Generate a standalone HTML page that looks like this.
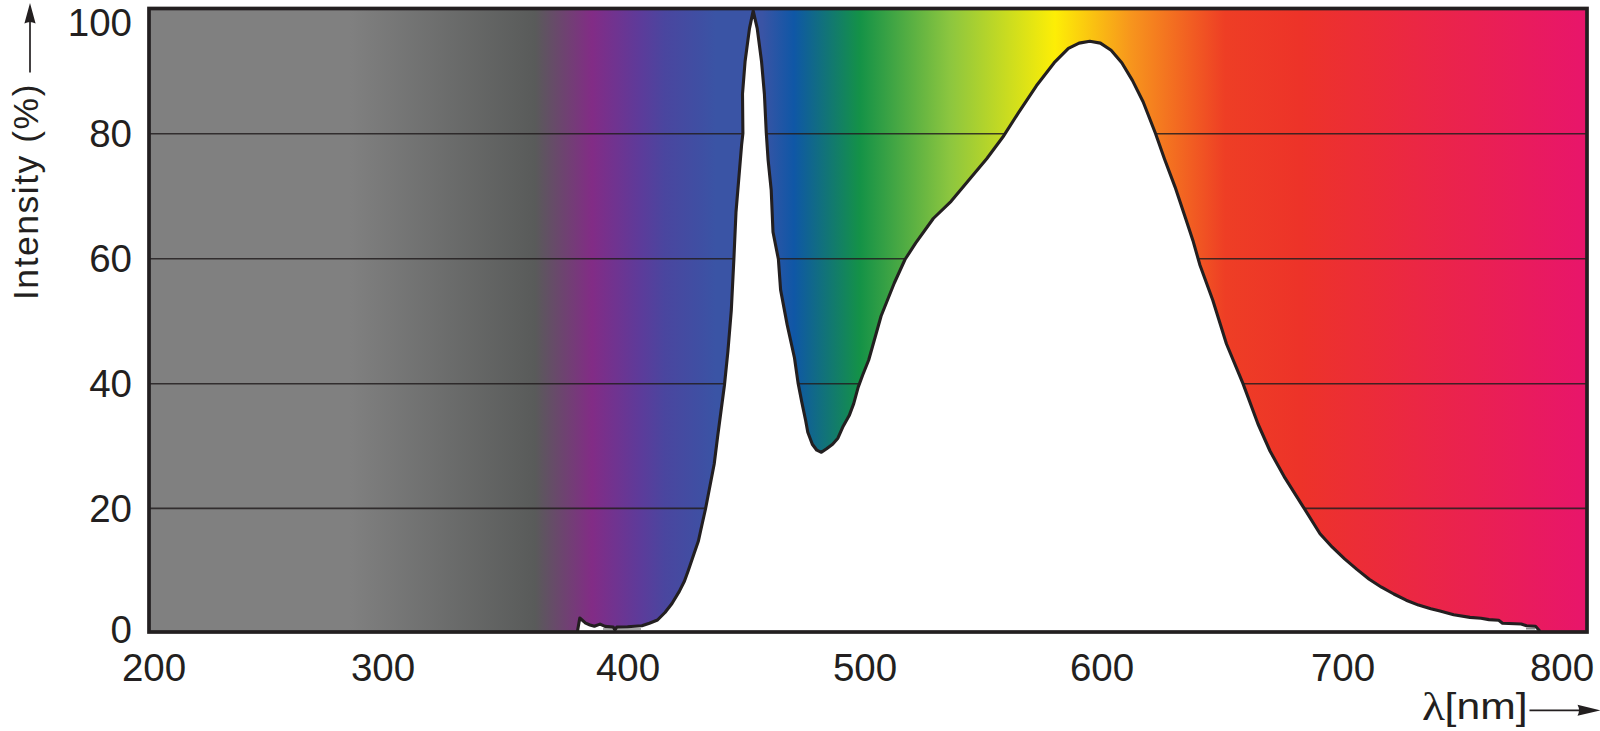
<!DOCTYPE html>
<html lang="en">
<head>
<meta charset="utf-8">
<title>Spectral power distribution</title>
<style>
html,body{margin:0;padding:0;background:#fff;}
body{width:1600px;height:731px;overflow:hidden;}
svg{display:block;}
text{font-family:"Liberation Sans",sans-serif;font-size:38.5px;fill:#231f20;}
</style>
</head>
<body>
<svg width="1600" height="731" viewBox="0 0 1600 731">
<defs>
<linearGradient id="spec" gradientUnits="userSpaceOnUse" x1="149" y1="0" x2="1587" y2="0">
<stop offset="0.0000" stop-color="#808080"/>
<stop offset="0.1398" stop-color="#808080"/>
<stop offset="0.2684" stop-color="#595b5a"/>
<stop offset="0.3081" stop-color="#822c86"/>
<stop offset="0.3414" stop-color="#5d3b9a"/>
<stop offset="0.3588" stop-color="#4a469f"/>
<stop offset="0.3832" stop-color="#3f4fa3"/>
<stop offset="0.3943" stop-color="#3a54a5"/>
<stop offset="0.4263" stop-color="#3a54a5"/>
<stop offset="0.4485" stop-color="#0f57a6"/>
<stop offset="0.4944" stop-color="#149247"/>
<stop offset="0.5570" stop-color="#8cc63f"/>
<stop offset="0.6300" stop-color="#fdee06"/>
<stop offset="0.6836" stop-color="#f7941d"/>
<stop offset="0.7483" stop-color="#ee3e25"/>
<stop offset="0.8004" stop-color="#ed3329"/>
<stop offset="1.0000" stop-color="#e8156b"/>
</linearGradient>
</defs>
<rect x="0" y="0" width="1600" height="731" fill="#ffffff"/>
<rect x="149" y="8.5" width="1438" height="623.5" fill="url(#spec)"/>
<g stroke="#231f20" stroke-width="1.6" stroke-opacity="0.85">
<line x1="149" x2="1587" y1="133.7" y2="133.7"/>
<line x1="149" x2="1587" y1="258.8" y2="258.8"/>
<line x1="149" x2="1587" y1="383.8" y2="383.8"/>
<line x1="149" x2="1587" y1="508.4" y2="508.4"/>
</g>
<path d="M577.6,630.5 L579.8,618.0 L585.6,623.1 L590.0,625.0 L594.4,626.3 L600.0,624.1 L605.0,626.4 L613.2,627.0 L615.0,630.0 L616.8,627.0 L627.5,626.7 L641.9,625.7 L649.4,623.2 L657.5,620.0 L665.0,612.5 L672.0,603.5 L679.3,591.4 L684.5,581.0 L688.3,570.4 L694.0,553.7 L698.4,541.0 L700.8,530.0 L705.6,508.5 L714.2,464.0 L717.6,436.8 L724.4,385.5 L727.9,351.3 L731.3,310.3 L733.9,258.7 L736.0,212.0 L741.6,145.0 L742.9,133.3 L742.5,94.0 L745.1,61.2 L749.5,28.4 L753.2,10.9 L757.2,28.4 L761.5,61.2 L764.4,94.0 L766.3,133.3 L768.1,159.8 L771.2,190.0 L773.0,232.0 L778.4,259.3 L780.6,289.9 L787.2,324.9 L794.5,358.0 L798.0,382.6 L801.8,402.1 L805.6,420.2 L807.8,432.2 L812.3,444.2 L816.8,450.2 L821.4,452.3 L826.6,448.7 L832.6,444.2 L837.9,438.2 L843.2,426.2 L849.2,415.6 L853.7,403.6 L858.2,387.1 L862.7,375.0 L868.7,360.0 L881.1,316.0 L894.3,283.0 L905.0,259.5 L915.6,243.2 L933.3,218.5 L951.1,201.3 L968.9,180.0 L986.7,158.7 L1002.7,137.3 L1018.7,112.4 L1036.4,85.8 L1054.2,62.7 L1068.4,48.4 L1079.1,43.1 L1089.8,41.3 L1100.4,43.1 L1111.1,50.2 L1121.8,62.7 L1132.4,80.4 L1143.1,101.8 L1155.6,133.8 L1164.4,158.7 L1175.1,187.1 L1185.8,219.1 L1192.9,240.4 L1200.0,265.3 L1212.8,300.2 L1226.5,344.0 L1242.9,383.4 L1258.0,424.0 L1270.0,451.0 L1285.1,478.2 L1303.2,506.8 L1320.0,533.7 L1332.3,547.2 L1344.6,558.9 L1356.9,569.4 L1369.2,579.2 L1381.5,587.2 L1393.8,594.0 L1406.2,600.2 L1418.5,605.1 L1430.8,608.8 L1440.0,611.0 L1453.7,614.7 L1470.0,617.4 L1481.0,618.2 L1489.0,619.6 L1498.7,620.3 L1502.5,623.2 L1521.2,624.0 L1526.5,625.8 L1535.5,626.3 L1539.3,630.5 L1539,632 L577.8,632 Z" fill="#ffffff" stroke="none"/>
<path d="M603,629 L641,629 M1526,628.6 L1535,628.6" fill="none" stroke="#8c8c8c" stroke-width="1.6"/>
<path d="M577.6,630.5 L579.8,618.0 L585.6,623.1 L590.0,625.0 L594.4,626.3 L600.0,624.1 L605.0,626.4 L613.2,627.0 L615.0,630.0 L616.8,627.0 L627.5,626.7 L641.9,625.7 L649.4,623.2 L657.5,620.0 L665.0,612.5 L672.0,603.5 L679.3,591.4 L684.5,581.0 L688.3,570.4 L694.0,553.7 L698.4,541.0 L700.8,530.0 L705.6,508.5 L714.2,464.0 L717.6,436.8 L724.4,385.5 L727.9,351.3 L731.3,310.3 L733.9,258.7 L736.0,212.0 L741.6,145.0 L742.9,133.3 L742.5,94.0 L745.1,61.2 L749.5,28.4 L753.2,10.9 L757.2,28.4 L761.5,61.2 L764.4,94.0 L766.3,133.3 L768.1,159.8 L771.2,190.0 L773.0,232.0 L778.4,259.3 L780.6,289.9 L787.2,324.9 L794.5,358.0 L798.0,382.6 L801.8,402.1 L805.6,420.2 L807.8,432.2 L812.3,444.2 L816.8,450.2 L821.4,452.3 L826.6,448.7 L832.6,444.2 L837.9,438.2 L843.2,426.2 L849.2,415.6 L853.7,403.6 L858.2,387.1 L862.7,375.0 L868.7,360.0 L881.1,316.0 L894.3,283.0 L905.0,259.5 L915.6,243.2 L933.3,218.5 L951.1,201.3 L968.9,180.0 L986.7,158.7 L1002.7,137.3 L1018.7,112.4 L1036.4,85.8 L1054.2,62.7 L1068.4,48.4 L1079.1,43.1 L1089.8,41.3 L1100.4,43.1 L1111.1,50.2 L1121.8,62.7 L1132.4,80.4 L1143.1,101.8 L1155.6,133.8 L1164.4,158.7 L1175.1,187.1 L1185.8,219.1 L1192.9,240.4 L1200.0,265.3 L1212.8,300.2 L1226.5,344.0 L1242.9,383.4 L1258.0,424.0 L1270.0,451.0 L1285.1,478.2 L1303.2,506.8 L1320.0,533.7 L1332.3,547.2 L1344.6,558.9 L1356.9,569.4 L1369.2,579.2 L1381.5,587.2 L1393.8,594.0 L1406.2,600.2 L1418.5,605.1 L1430.8,608.8 L1440.0,611.0 L1453.7,614.7 L1470.0,617.4 L1481.0,618.2 L1489.0,619.6 L1498.7,620.3 L1502.5,623.2 L1521.2,624.0 L1526.5,625.8 L1535.5,626.3 L1539.3,630.5" fill="none" stroke="#231f20" stroke-width="3.1" stroke-linejoin="round" stroke-linecap="round"/>
<rect x="149" y="8.5" width="1438" height="623.5" fill="none" stroke="#231f20" stroke-width="3.7"/>
<g>
<text x="132" y="35.8" text-anchor="end">100</text>
<text x="132" y="147.3" text-anchor="end">80</text>
<text x="132" y="272.4" text-anchor="end">60</text>
<text x="132" y="397.3" text-anchor="end">40</text>
<text x="132" y="521.9" text-anchor="end">20</text>
<text x="132" y="643.2" text-anchor="end">0</text>
</g>
<g>
<text x="154" y="681.3" text-anchor="middle">200</text>
<text x="383" y="681.3" text-anchor="middle">300</text>
<text x="628" y="681.3" text-anchor="middle">400</text>
<text x="865" y="681.3" text-anchor="middle">500</text>
<text x="1102" y="681.3" text-anchor="middle">600</text>
<text x="1343" y="681.3" text-anchor="middle">700</text>
<text x="1562" y="681.3" text-anchor="middle">800</text>
</g>
<text transform="translate(37.8,300) rotate(-90)" x="0" y="0" textLength="215.5" lengthAdjust="spacing" style="font-size:35.5px">Intensity (%)</text>
<line x1="30" y1="72.5" x2="30" y2="20" stroke="#231f20" stroke-width="1.7"/>
<path d="M30,3 L35.6,23.5 Q30,20.5 24.4,23.5 Z" fill="#231f20"/>
<text x="1422" y="720" textLength="23" lengthAdjust="spacingAndGlyphs" style="font-family:'Liberation Serif','DejaVu Serif',serif;font-size:40px">λ</text>
<text x="1444.6" y="719.4" textLength="83" lengthAdjust="spacingAndGlyphs" style="font-size:36px">[nm]</text>
<line x1="1529.5" y1="710.3" x2="1582" y2="710.3" stroke="#231f20" stroke-width="1.7"/>
<path d="M1600.5,710.3 L1577.5,704.8 Q1580.5,710.3 1577.5,715.8 Z" fill="#231f20"/>
</svg>
</body>
</html>
